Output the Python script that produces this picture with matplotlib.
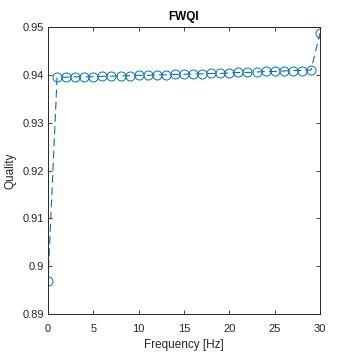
import numpy as np
import matplotlib.pyplot as plt

# dados
freq = list(range(0, 31))
qualidade = [0.8970,
             0.9395, 0.9395, 0.9396, 0.9396, 0.9396, 0.9397, 0.9397, 0.9398, 0.9398, 0.9399,
             0.9399, 0.9400, 0.9400, 0.9401, 0.9401, 0.9402, 0.9402, 0.9403, 0.9403, 0.9404,
             0.9405, 0.9405, 0.9406, 0.9407, 0.9407, 0.9408, 0.9409, 0.9409, 0.9410,
             0.9487]
xticks = [0, 5, 10, 15, 20, 25, 30]
yticks = [0.89, 0.90, 0.91, 0.92, 0.93, 0.94, 0.95]
ytick_labels = ['0.89', '0.9', '0.91', '0.92', '0.93', '0.94', '0.95']

plt.rcParams['font.family'] = ['Liberation Sans', 'DejaVu Sans']
cinza = '#262626'

fig = plt.figure(figsize=(3.54, 3.54), dpi=100)
ax = fig.add_axes([0.1356, 0.113, 0.7684, 0.8107])
ax.plot(freq, qualidade, linestyle='--', color='#0072BD', marker='o',
        markerfacecolor='none', markersize=6.5, markeredgewidth=0.7,
        linewidth=0.8, dashes=(7, 4))
ax.set_xlim(0, 30)
ax.set_ylim(0.89, 0.95)
ax.set_xticks(xticks)
ax.set_yticks(yticks)
ax.set_yticklabels(ytick_labels)
ax.tick_params(direction='in', top=True, right=True, length=3, width=0.6,
               labelsize=8, colors=cinza, pad=3)
ax.tick_params(axis='x', pad=7)
for s in ax.spines.values():
    s.set_color(cinza)
    s.set_linewidth(0.7)
ax.set_xlabel('Frequency [Hz]', fontsize=8.5, color=cinza, labelpad=4)
ax.set_ylabel('Quality', fontsize=8.5, color=cinza, labelpad=4)
ax.set_title('FWQI', fontsize=8.5, fontweight='bold', color='black', pad=5)
for lab in ax.get_xticklabels() + ax.get_yticklabels():
    lab.set_color(cinza)

fig.savefig('out.png', dpi=100)
